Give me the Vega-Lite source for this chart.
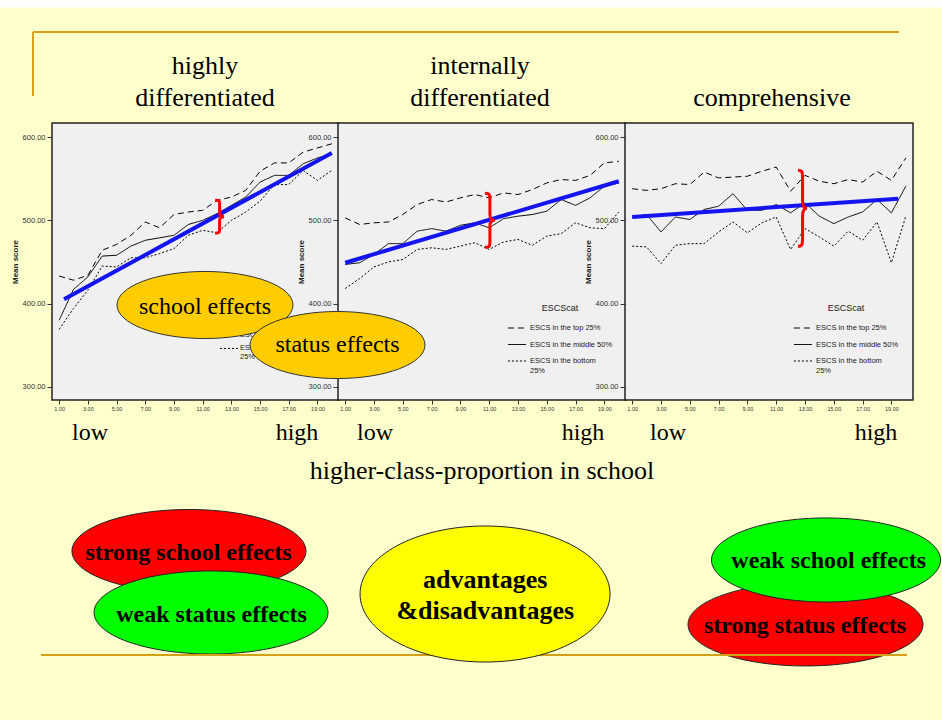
{
"$schema": "https://vega.github.io/schema/vega-lite/v6.json",
"width": 942, "height": 720, "autosize": {"type": "none"}, "padding": 0,
"background": "#FFFFCC",
"config": {"view": {"stroke": null}},
"datasets": {
"scores": [
{"p":1,"x":1,"top":433,"mid":380,"bot":369},{"p":1,"x":2,"top":428,"mid":417,"bot":394},{"p":1,"x":3,"top":434,"mid":432,"bot":416},{"p":1,"x":4,"top":464,"mid":457,"bot":445},{"p":1,"x":5,"top":471,"mid":458,"bot":444},{"p":1,"x":6,"top":482,"mid":469,"bot":455},{"p":1,"x":7,"top":498,"mid":476,"bot":455},{"p":1,"x":8,"top":491,"mid":479,"bot":460},{"p":1,"x":9,"top":507,"mid":482,"bot":466},{"p":1,"x":10,"top":510,"mid":495,"bot":482},{"p":1,"x":11,"top":512,"mid":500,"bot":488},{"p":1,"x":12,"top":524,"mid":508,"bot":485},{"p":1,"x":13,"top":528,"mid":518,"bot":500},{"p":1,"x":14,"top":536,"mid":528,"bot":510},{"p":1,"x":15,"top":559,"mid":546,"bot":523},{"p":1,"x":16,"top":569,"mid":554,"bot":543},{"p":1,"x":17,"top":569,"mid":554,"bot":543},{"p":1,"x":18,"top":582,"mid":568,"bot":560},{"p":1,"x":19,"top":587,"mid":575,"bot":548},{"p":1,"x":20,"top":592,"mid":580,"bot":560},
{"p":2,"x":1,"top":503,"mid":447,"bot":418},{"p":2,"x":2,"top":495,"mid":449,"bot":430},{"p":2,"x":3,"top":497,"mid":459,"bot":444},{"p":2,"x":4,"top":498,"mid":472,"bot":450},{"p":2,"x":5,"top":507,"mid":472,"bot":453},{"p":2,"x":6,"top":519,"mid":487,"bot":465},{"p":2,"x":7,"top":525,"mid":490,"bot":467},{"p":2,"x":8,"top":522,"mid":487,"bot":465},{"p":2,"x":9,"top":527,"mid":494,"bot":469},{"p":2,"x":10,"top":531,"mid":497,"bot":473},{"p":2,"x":11,"top":527,"mid":491,"bot":465},{"p":2,"x":12,"top":533,"mid":502,"bot":474},{"p":2,"x":13,"top":531,"mid":505,"bot":477},{"p":2,"x":14,"top":537,"mid":507,"bot":470},{"p":2,"x":15,"top":545,"mid":511,"bot":481},{"p":2,"x":16,"top":549,"mid":525,"bot":484},{"p":2,"x":17,"top":548,"mid":518,"bot":497},{"p":2,"x":18,"top":554,"mid":527,"bot":491},{"p":2,"x":19,"top":569,"mid":541,"bot":490},{"p":2,"x":20,"top":571,"mid":545,"bot":510},
{"p":3,"x":1,"top":538,"mid":504,"bot":469},{"p":3,"x":2,"top":536,"mid":507,"bot":468},{"p":3,"x":3,"top":538,"mid":486,"bot":448},{"p":3,"x":4,"top":544,"mid":504,"bot":470},{"p":3,"x":5,"top":543,"mid":501,"bot":472},{"p":3,"x":6,"top":558,"mid":513,"bot":472},{"p":3,"x":7,"top":551,"mid":517,"bot":486},{"p":3,"x":8,"top":552,"mid":532,"bot":498},{"p":3,"x":9,"top":553,"mid":512,"bot":485},{"p":3,"x":10,"top":559,"mid":512,"bot":497},{"p":3,"x":11,"top":564,"mid":519,"bot":504},{"p":3,"x":12,"top":535,"mid":509,"bot":465},{"p":3,"x":13,"top":554,"mid":521,"bot":490},{"p":3,"x":14,"top":547,"mid":505,"bot":480},{"p":3,"x":15,"top":544,"mid":496,"bot":469},{"p":3,"x":16,"top":549,"mid":504,"bot":487},{"p":3,"x":17,"top":546,"mid":510,"bot":476},{"p":3,"x":18,"top":559,"mid":525,"bot":498},{"p":3,"x":19,"top":548,"mid":509,"bot":449},{"p":3,"x":20,"top":575,"mid":541,"bot":505}
],
"fits": [
{"p":1,"x":1.34,"y":405},{"p":1,"x":20,"y":581},
{"p":2,"x":1,"y":449},{"p":2,"x":20,"y":547},
{"p":3,"x":1,"y":504},{"p":3,"x":19.47,"y":526}
]
},
"layer": [
{
"layer": [
{"data":{"values":[{}]},"mark":{"type":"rect","fill":"#FFFFFF"},
 "encoding":{"x":{"datum":0,"type":"quantitative","scale":{"domain":[0,10],"range":[0,942],"nice":false,"zero":false},"axis":null},"x2":{"datum":10},
 "y":{"datum":0,"type":"quantitative","scale":{"domain":[0,7.5],"range":[0,720],"nice":false,"zero":false},"axis":null},"y2":{"datum":0.078}}},
{"data":{"values":[{}]},"mark":{"type":"rule","stroke":"#D4A017","strokeWidth":2},
 "encoding":{"x":{"datum":0.35,"type":"quantitative","axis":null},"x2":{"datum":9.544},
 "y":{"datum":0.333,"type":"quantitative","axis":null}}},
{"data":{"values":[{}]},"mark":{"type":"rule","stroke":"#D4A017","strokeWidth":2},
 "encoding":{"x":{"datum":0.35,"type":"quantitative","axis":null},
 "y":{"datum":0.333,"type":"quantitative","axis":null},"y2":{"datum":1.0}}},
{"data":{"values":[{}]},"mark":{"type":"text","text":["highly","differentiated"],"lineHeight":32,"font":"Liberation Serif","fontSize":26,"align":"center","baseline":"alphabetic","color":"#000000"},
 "encoding":{"x":{"datum":2.176,"type":"quantitative","axis":null},
 "y":{"datum":0.771,"type":"quantitative","axis":null}}},
{"data":{"values":[{}]},"mark":{"type":"text","text":["internally","differentiated"],"lineHeight":32,"font":"Liberation Serif","fontSize":26,"align":"center","baseline":"alphabetic","color":"#000000"},
 "encoding":{"x":{"datum":5.096,"type":"quantitative","axis":null},
 "y":{"datum":0.771,"type":"quantitative","axis":null}}},
{"data":{"values":[{}]},"mark":{"type":"text","text":"comprehensive","font":"Liberation Serif","fontSize":26,"align":"center","baseline":"alphabetic","color":"#000000"},
 "encoding":{"x":{"datum":8.195,"type":"quantitative","axis":null},
 "y":{"datum":1.104,"type":"quantitative","axis":null}}},
{"data":{"values":[{}]},"mark":{"type":"text","text":"low","font":"Liberation Serif","fontSize":24,"align":"center","baseline":"alphabetic","color":"#000000"},
 "encoding":{"x":{"datum":0.955,"type":"quantitative","axis":null},
 "y":{"datum":4.583,"type":"quantitative","axis":null}}},
{"data":{"values":[{}]},"mark":{"type":"text","text":"high","font":"Liberation Serif","fontSize":24,"align":"center","baseline":"alphabetic","color":"#000000"},
 "encoding":{"x":{"datum":3.153,"type":"quantitative","axis":null},
 "y":{"datum":4.583,"type":"quantitative","axis":null}}},
{"data":{"values":[{}]},"mark":{"type":"text","text":"low","font":"Liberation Serif","fontSize":24,"align":"center","baseline":"alphabetic","color":"#000000"},
 "encoding":{"x":{"datum":3.981,"type":"quantitative","axis":null},
 "y":{"datum":4.583,"type":"quantitative","axis":null}}},
{"data":{"values":[{}]},"mark":{"type":"text","text":"high","font":"Liberation Serif","fontSize":24,"align":"center","baseline":"alphabetic","color":"#000000"},
 "encoding":{"x":{"datum":6.189,"type":"quantitative","axis":null},
 "y":{"datum":4.583,"type":"quantitative","axis":null}}},
{"data":{"values":[{}]},"mark":{"type":"text","text":"low","font":"Liberation Serif","fontSize":24,"align":"center","baseline":"alphabetic","color":"#000000"},
 "encoding":{"x":{"datum":7.091,"type":"quantitative","axis":null},
 "y":{"datum":4.583,"type":"quantitative","axis":null}}},
{"data":{"values":[{}]},"mark":{"type":"text","text":"high","font":"Liberation Serif","fontSize":24,"align":"center","baseline":"alphabetic","color":"#000000"},
 "encoding":{"x":{"datum":9.299,"type":"quantitative","axis":null},
 "y":{"datum":4.583,"type":"quantitative","axis":null}}},
{"data":{"values":[{}]},"mark":{"type":"text","text":"higher-class-proportion in school","font":"Liberation Serif","fontSize":26,"align":"center","baseline":"alphabetic","color":"#000000"},
 "encoding":{"x":{"datum":5.117,"type":"quantitative","axis":null},
 "y":{"datum":4.99,"type":"quantitative","axis":null}}}
]
},
{
"layer": [
{"data":{"values":[{}]},"mark":{"type":"rect","fill":"#F0F0F0","stroke":"#222222","strokeWidth":1.5},
 "encoding":{"x":{"datum":0.5,"type":"quantitative","scale":{"domain":[0.5,20.5],"range":[52,339],"nice":false,"zero":false},
   "axis":{"orient":"bottom","offset":-320,"values":[1,3,5,7,9,11,13,15,17,19],"format":".2f","title":null,"domain":false,"grid":false,"tickSize":4,"tickColor":"#333333","labelFont":"Liberation Sans","labelFontSize":5.5,"labelColor":"#333333","labelPadding":2,"zindex":1}},"x2":{"datum":20.5},
 "y":{"datum":284,"type":"quantitative","scale":{"domain":[284,617],"range":[400,123],"nice":false,"zero":false},
   "axis":{"orient":"left","offset":-52,"values":[300,400,500,600],"format":".2f","title":"Mean score","titleFont":"Liberation Sans","titleFontSize":8,"titleFontWeight":"bold","titleColor":"#222222","titlePadding":3,"domain":false,"grid":false,"tickSize":5,"tickColor":"#333333","labelFont":"Liberation Sans","labelFontSize":7.5,"labelColor":"#333333","labelPadding":2,"zindex":1}},"y2":{"datum":617}}},
{"data":{"name":"scores"},"transform":[{"filter":"datum.p == 1"},{"fold":["top","mid","bot"],"as":["g","v"]}],
 "mark":{"type":"line","color":"#000000","strokeWidth":1},
 "encoding":{
  "x":{"field":"x","type":"quantitative"},
  "y":{"field":"v","type":"quantitative"},
  "strokeDash":{"field":"g","type":"nominal","scale":{"domain":["top","mid","bot"],"range":[[6,4],[1,0],[2,2]]},"legend":null}}},
{"data":{"values":[{}]},"mark":{"type":"text","text":"ESCScat","font":"Liberation Sans","fontSize":9,"align":"center","baseline":"middle","color":"#222222"},
 "encoding":{"x":{"datum":15.83,"type":"quantitative"},"y":{"datum":392.2,"type":"quantitative"}}},
{"data":{"values":[{}]},"mark":{"type":"rule","stroke":"#000000","strokeWidth":1,"strokeDash":[6,4]},
 "encoding":{"x":{"datum":12.21,"type":"quantitative"},"x2":{"datum":13.46},"y":{"datum":375.4,"type":"quantitative"}}},
{"data":{"values":[{}]},"mark":{"type":"rule","stroke":"#000000","strokeWidth":1},
 "encoding":{"x":{"datum":12.21,"type":"quantitative"},"x2":{"datum":13.46},"y":{"datum":362.7,"type":"quantitative"}}},
{"data":{"values":[{}]},"mark":{"type":"rule","stroke":"#000000","strokeWidth":1,"strokeDash":[2,2]},
 "encoding":{"x":{"datum":12.21,"type":"quantitative"},"x2":{"datum":13.46},"y":{"datum":346,"type":"quantitative"}}},
{"data":{"values":[{}]},"mark":{"type":"text","text":"ESCS in the top 25%","font":"Liberation Sans","fontSize":7.5,"align":"left","baseline":"middle","color":"#222222"},
 "encoding":{"x":{"datum":13.6,"type":"quantitative"},"y":{"datum":375.4,"type":"quantitative"}}},
{"data":{"values":[{}]},"mark":{"type":"text","text":"ESCS in the middle 50%","font":"Liberation Sans","fontSize":7.5,"align":"left","baseline":"middle","color":"#222222"},
 "encoding":{"x":{"datum":13.6,"type":"quantitative"},"y":{"datum":362.7,"type":"quantitative"}}},
{"data":{"values":[{}]},"mark":{"type":"text","text":["ESCS in the bottom","25%"],"lineHeight":9,"font":"Liberation Sans","fontSize":7.5,"align":"left","baseline":"middle","color":"#222222"},
 "encoding":{"x":{"datum":13.6,"type":"quantitative"},"y":{"datum":346,"type":"quantitative"}}},
{"data":{"name":"fits"},"transform":[{"filter":"datum.p == 1"}],
 "mark":{"type":"line","color":"#1414F0","strokeWidth":4},
 "encoding":{"x":{"field":"x","type":"quantitative"},"y":{"field":"y","type":"quantitative"}}},
{"data":{"values":[{}]},"mark":{"type":"point","shape":"M-0.27,-1C0,-1,0,-0.95,0,-0.75L0,-0.2C0,-0.05,0.135,0,0.27,0C0.135,0,0,0.05,0,0.2L0,0.75C0,0.95,0,1,-0.27,1","size":1089,"filled":false,"stroke":"#FF0000","strokeWidth":3,"opacity":1},
 "encoding":{"x":{"datum":12.18,"type":"quantitative"},"y":{"datum":504.4,"type":"quantitative"}}}
]
},
{
"layer": [
{"data":{"values":[{}]},"mark":{"type":"rect","fill":"#F0F0F0","stroke":"#222222","strokeWidth":1.5},
 "encoding":{"x":{"datum":0.5,"type":"quantitative","scale":{"domain":[0.5,20.5],"range":[338,626],"nice":false,"zero":false},
   "axis":{"orient":"bottom","offset":-320,"values":[1,3,5,7,9,11,13,15,17,19],"format":".2f","title":null,"domain":false,"grid":false,"tickSize":4,"tickColor":"#333333","labelFont":"Liberation Sans","labelFontSize":5.5,"labelColor":"#333333","labelPadding":2,"zindex":1}},"x2":{"datum":20.5},
 "y":{"datum":284,"type":"quantitative","scale":{"domain":[284,617],"range":[400,123],"nice":false,"zero":false},
   "axis":{"orient":"left","offset":-338,"values":[300,400,500,600],"format":".2f","title":"Mean score","titleFont":"Liberation Sans","titleFontSize":8,"titleFontWeight":"bold","titleColor":"#222222","titlePadding":3,"domain":false,"grid":false,"tickSize":5,"tickColor":"#333333","labelFont":"Liberation Sans","labelFontSize":7.5,"labelColor":"#333333","labelPadding":2,"zindex":1}},"y2":{"datum":617}}},
{"data":{"name":"scores"},"transform":[{"filter":"datum.p == 2"},{"fold":["top","mid","bot"],"as":["g","v"]}],
 "mark":{"type":"line","color":"#000000","strokeWidth":1},
 "encoding":{
  "x":{"field":"x","type":"quantitative"},
  "y":{"field":"v","type":"quantitative"},
  "strokeDash":{"field":"g","type":"nominal","scale":{"domain":["top","mid","bot"],"range":[[6,4],[1,0],[2,2]]},
   "legend":{"orient":"none","legendX":507,"legendY":304,"padding":0,"title":"ESCScat","titleFont":"Liberation Sans","titleFontSize":9,"titleFontWeight":"normal","titleColor":"#222222","titleAnchor":"middle","titlePadding":5,"labelFont":"Liberation Sans","labelFontSize":7.5,"labelColor":"#222222","labelOffset":3,"symbolSize":330,"symbolStrokeWidth":1,"symbolStrokeColor":"#000000","rowPadding":2.5,
    "labelExpr":"datum.value == 'top' ? 'ESCS in the top 25%' : datum.value == 'mid' ? 'ESCS in the middle 50%' : ['ESCS in the bottom', '25%']"}}}},
{"data":{"name":"fits"},"transform":[{"filter":"datum.p == 2"}],
 "mark":{"type":"line","color":"#1414F0","strokeWidth":4},
 "encoding":{"x":{"field":"x","type":"quantitative"},"y":{"field":"y","type":"quantitative"}}},
{"data":{"values":[{}]},"mark":{"type":"point","shape":"M-0.185,-1C0,-1,0,-0.95,0,-0.75L0,-0.2C0,-0.05,0.09,0,0.185,0C0.09,0,0,0.05,0,0.2L0,0.75C0,0.95,0,1,-0.185,1","size":2916,"filled":false,"stroke":"#FF0000","strokeWidth":3,"opacity":1},
 "encoding":{"x":{"datum":11.05,"type":"quantitative"},"y":{"datum":500,"type":"quantitative"}}}
]
},
{
"layer": [
{"data":{"values":[{}]},"mark":{"type":"rect","fill":"#F0F0F0","stroke":"#222222","strokeWidth":1.5},
 "encoding":{"x":{"datum":0.5,"type":"quantitative","scale":{"domain":[0.5,20.5],"range":[625,913],"nice":false,"zero":false},
   "axis":{"orient":"bottom","offset":-320,"values":[1,3,5,7,9,11,13,15,17,19],"format":".2f","title":null,"domain":false,"grid":false,"tickSize":4,"tickColor":"#333333","labelFont":"Liberation Sans","labelFontSize":5.5,"labelColor":"#333333","labelPadding":2,"zindex":1}},"x2":{"datum":20.5},
 "y":{"datum":284,"type":"quantitative","scale":{"domain":[284,617],"range":[400,123],"nice":false,"zero":false},
   "axis":{"orient":"left","offset":-625,"values":[300,400,500,600],"format":".2f","title":"Mean score","titleFont":"Liberation Sans","titleFontSize":8,"titleFontWeight":"bold","titleColor":"#222222","titlePadding":3,"domain":false,"grid":false,"tickSize":5,"tickColor":"#333333","labelFont":"Liberation Sans","labelFontSize":7.5,"labelColor":"#333333","labelPadding":2,"zindex":1}},"y2":{"datum":617}}},
{"data":{"name":"scores"},"transform":[{"filter":"datum.p == 3"},{"fold":["top","mid","bot"],"as":["g","v"]}],
 "mark":{"type":"line","color":"#000000","strokeWidth":1},
 "encoding":{
  "x":{"field":"x","type":"quantitative"},
  "y":{"field":"v","type":"quantitative"},
  "strokeDash":{"field":"g","type":"nominal","scale":{"domain":["top","mid","bot"],"range":[[6,4],[1,0],[2,2]]},
   "legend":{"orient":"none","legendX":793,"legendY":304,"padding":0,"title":"ESCScat","titleFont":"Liberation Sans","titleFontSize":9,"titleFontWeight":"normal","titleColor":"#222222","titleAnchor":"middle","titlePadding":5,"labelFont":"Liberation Sans","labelFontSize":7.5,"labelColor":"#222222","labelOffset":3,"symbolSize":330,"symbolStrokeWidth":1,"symbolStrokeColor":"#000000","rowPadding":2.5,
    "labelExpr":"datum.value == 'top' ? 'ESCS in the top 25%' : datum.value == 'mid' ? 'ESCS in the middle 50%' : ['ESCS in the bottom', '25%']"}}}},
{"data":{"name":"fits"},"transform":[{"filter":"datum.p == 3"}],
 "mark":{"type":"line","color":"#1414F0","strokeWidth":4},
 "encoding":{"x":{"field":"x","type":"quantitative"},"y":{"field":"y","type":"quantitative"}}},
{"data":{"values":[{}]},"mark":{"type":"point","shape":"M-0.12,-1C0,-1,0,-0.95,0,-0.75L0,-0.2C0,-0.05,0.06,0,0.12,0C0.06,0,0,0.05,0,0.2L0,0.75C0,0.95,0,1,-0.12,1","size":5776,"filled":false,"stroke":"#FF0000","strokeWidth":3,"opacity":1},
 "encoding":{"x":{"datum":12.83,"type":"quantitative"},"y":{"datum":514.5,"type":"quantitative"}}}
]
},
{
"layer": [
{"data":{"values":[{}]},"mark":{"type":"point","shape":"M-1,0A1,0.381,0,1,0,1,0A1,0.381,0,1,0,-1,0Z","size":30976,"filled":true,"fill":"#FFCC00","stroke":"#333333","strokeWidth":1,"opacity":1},
 "encoding":{"x":{"datum":2.176,"type":"quantitative","scale":{"domain":[0,10],"range":[0,942],"nice":false,"zero":false},"axis":null},
 "y":{"datum":3.177,"type":"quantitative","scale":{"domain":[0,7.5],"range":[0,720],"nice":false,"zero":false},"axis":null}}},
{"data":{"values":[{}]},"mark":{"type":"text","text":"school effects","font":"Liberation Serif","fontSize":24,"align":"center","baseline":"alphabetic","color":"#000000"},
 "encoding":{"x":{"datum":2.176,"type":"quantitative","axis":null},"y":{"datum":3.271,"type":"quantitative","axis":null}}},
{"data":{"values":[{}]},"mark":{"type":"point","shape":"M-1,0A1,0.383,0,1,0,1,0A1,0.383,0,1,0,-1,0Z","size":30625,"filled":true,"fill":"#FFCC00","stroke":"#333333","strokeWidth":1,"opacity":1},
 "encoding":{"x":{"datum":3.583,"type":"quantitative","axis":null},"y":{"datum":3.594,"type":"quantitative","axis":null}}},
{"data":{"values":[{}]},"mark":{"type":"text","text":"status effects","font":"Liberation Serif","fontSize":24,"align":"center","baseline":"alphabetic","color":"#000000"},
 "encoding":{"x":{"datum":3.583,"type":"quantitative","axis":null},"y":{"datum":3.67,"type":"quantitative","axis":null}}},
{"data":{"values":[{}]},"mark":{"type":"point","shape":"M-1,0A1,0.355,0,1,0,1,0A1,0.355,0,1,0,-1,0Z","size":54756,"filled":true,"fill":"#FF0000","stroke":"#222222","strokeWidth":1,"opacity":1},
 "encoding":{"x":{"datum":2.006,"type":"quantitative","axis":null},"y":{"datum":5.74,"type":"quantitative","axis":null}}},
{"data":{"values":[{}]},"mark":{"type":"text","text":"strong school effects","font":"Liberation Serif","fontSize":24,"fontWeight":"bold","align":"center","baseline":"alphabetic","color":"#000000"},
 "encoding":{"x":{"datum":2.001,"type":"quantitative","axis":null},"y":{"datum":5.833,"type":"quantitative","axis":null}}},
{"data":{"values":[{}]},"mark":{"type":"point","shape":"M-1,0A1,0.355,0,1,0,1,0A1,0.355,0,1,0,-1,0Z","size":54756,"filled":true,"fill":"#00FF00","stroke":"#222222","strokeWidth":1,"opacity":1},
 "encoding":{"x":{"datum":2.24,"type":"quantitative","axis":null},"y":{"datum":6.38,"type":"quantitative","axis":null}}},
{"data":{"values":[{}]},"mark":{"type":"text","text":"weak status effects","font":"Liberation Serif","fontSize":24,"fontWeight":"bold","align":"center","baseline":"alphabetic","color":"#000000"},
 "encoding":{"x":{"datum":2.245,"type":"quantitative","axis":null},"y":{"datum":6.476,"type":"quantitative","axis":null}}},
{"data":{"values":[{}]},"mark":{"type":"point","shape":"M-1,0A1,0.353,0,1,0,1,0A1,0.353,0,1,0,-1,0Z","size":55225,"filled":true,"fill":"#FF0000","stroke":"#222222","strokeWidth":1,"opacity":1},
 "encoding":{"x":{"datum":8.551,"type":"quantitative","axis":null},"y":{"datum":6.505,"type":"quantitative","axis":null}}},
{"data":{"values":[{}]},"mark":{"type":"text","text":"strong status effects","font":"Liberation Serif","fontSize":24,"fontWeight":"bold","align":"center","baseline":"alphabetic","color":"#000000"},
 "encoding":{"x":{"datum":8.546,"type":"quantitative","axis":null},"y":{"datum":6.594,"type":"quantitative","axis":null}}},
{"data":{"values":[{}]},"mark":{"type":"rule","stroke":"#D4A017","strokeWidth":2},
 "encoding":{"x":{"datum":0.435,"type":"quantitative","axis":null},"x2":{"datum":9.628},"y":{"datum":6.823,"type":"quantitative","axis":null}}},
{"data":{"values":[{}]},"mark":{"type":"point","shape":"M-1,0A1,0.544,0,1,0,1,0A1,0.544,0,1,0,-1,0Z","size":62500,"filled":true,"fill":"#FFFF00","stroke":"#222222","strokeWidth":1,"opacity":1},
 "encoding":{"x":{"datum":5.149,"type":"quantitative","axis":null},"y":{"datum":6.1875,"type":"quantitative","axis":null}}},
{"data":{"values":[{}]},"mark":{"type":"text","text":["advantages","&disadvantages"],"lineHeight":31,"font":"Liberation Serif","fontSize":26,"fontWeight":"bold","align":"center","baseline":"alphabetic","color":"#000000"},
 "encoding":{"x":{"datum":5.151,"type":"quantitative","axis":null},"y":{"datum":6.125,"type":"quantitative","axis":null}}},
{"data":{"values":[{}]},"mark":{"type":"point","shape":"M-1,0A1,0.367,0,1,0,1,0A1,0.367,0,1,0,-1,0Z","size":52441,"filled":true,"fill":"#00FF00","stroke":"#222222","strokeWidth":1,"opacity":1},
 "encoding":{"x":{"datum":8.769,"type":"quantitative","axis":null},"y":{"datum":5.833,"type":"quantitative","axis":null}}},
{"data":{"values":[{}]},"mark":{"type":"text","text":"weak school effects","font":"Liberation Serif","fontSize":24,"fontWeight":"bold","align":"center","baseline":"alphabetic","color":"#000000"},
 "encoding":{"x":{"datum":8.797,"type":"quantitative","axis":null},"y":{"datum":5.917,"type":"quantitative","axis":null}}}
]
}
],
"resolve": {"scale": {"x": "independent", "y": "independent", "strokeDash": "independent"}, "axis": {"x": "independent", "y": "independent"}, "legend": {"strokeDash": "independent"}}
}
